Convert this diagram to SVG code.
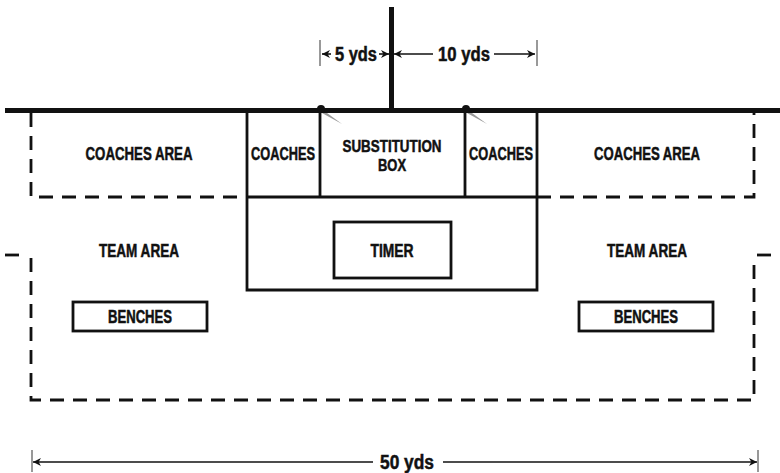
<svg xmlns="http://www.w3.org/2000/svg" width="780" height="473" viewBox="0 0 780 473">
<style>
text{font-family:"Liberation Sans Narrow","Liberation Sans",Arial,sans-serif;font-weight:bold;fill:#111;stroke:#111;stroke-width:0.5;text-anchor:middle}
.lbl{font-size:17.5px}
.sub{font-size:16.5px}
.dim{font-size:20px}
.solid{fill:none;stroke:#111;stroke-width:2.8}
.dash{fill:none;stroke:#111;stroke-width:2.8;stroke-dasharray:14 9}
.thin{fill:none;stroke:#111;stroke-width:1.6}
.tick{stroke:#555;stroke-width:1.2}
</style>
<defs>
<marker id="ah" viewBox="0 0 10 10" refX="10" refY="5" markerWidth="9" markerHeight="8" markerUnits="userSpaceOnUse" orient="auto-start-reverse">
<path d="M0,0 L10,5 L0,10 L3,5 Z" fill="#111"/>
</marker>
</defs>
<rect width="780" height="473" fill="#fff"/>
<g id="field">
<line x1="5" y1="110.5" x2="780" y2="110.5" stroke="#111" stroke-width="5"/>
<line x1="391.5" y1="7" x2="391.5" y2="110" stroke="#111" stroke-width="5"/>
<circle cx="321" cy="109" r="4" fill="#111"/>
<circle cx="466" cy="109" r="4" fill="#111"/>
<polygon points="322,113 342,124 327,113" fill="#999"/>
<polygon points="467,113 487,124 472,113" fill="#999"/>
</g>
<g id="coaches-area-left">
<path class="dash" d="M31,113 V197 H247"/>
<text class="lbl" x="139" y="160" textLength="107" lengthAdjust="spacingAndGlyphs">COACHES AREA</text>
</g>
<g id="coaches-area-right">
<path class="dash" d="M537,197 H754 V113"/>
<text class="lbl" x="647" y="160" textLength="106" lengthAdjust="spacingAndGlyphs">COACHES AREA</text>
</g>
<g id="coaches-left">
<path class="solid" d="M247,112 V197 M320,112 V197"/>
<text class="lbl" x="283" y="160" textLength="64" lengthAdjust="spacingAndGlyphs">COACHES</text>
</g>
<g id="substitution-box">
<path class="solid" d="M247,197 H537"/>
<text class="sub" x="392" y="152" textLength="99" lengthAdjust="spacingAndGlyphs">SUBSTITUTION</text>
<text class="sub" x="392" y="171" textLength="28" lengthAdjust="spacingAndGlyphs">BOX</text>
</g>
<g id="coaches-right">
<path class="solid" d="M465,112 V197 M537,112 V197"/>
<text class="lbl" x="501" y="160" textLength="64" lengthAdjust="spacingAndGlyphs">COACHES</text>
</g>
<g id="timer-area">
<path class="solid" d="M247,197 V290 H537 V197"/>
</g>
<g id="timer">
<rect class="solid" x="334" y="222" width="117" height="56"/>
<text class="lbl" x="392" y="257" textLength="43" lengthAdjust="spacingAndGlyphs">TIMER</text>
</g>
<g id="team-area-left">
<path class="dash" d="M5,255 H20"/>
<path class="dash" d="M31,258 V400 H392"/>
<text class="lbl" x="139" y="257" textLength="80" lengthAdjust="spacingAndGlyphs">TEAM AREA</text>
</g>
<g id="team-area-right">
<path class="dash" d="M392,400 H754 V258"/>
<path class="dash" d="M757,255 H780"/>
<text class="lbl" x="647" y="257" textLength="80" lengthAdjust="spacingAndGlyphs">TEAM AREA</text>
</g>
<g id="benches-left">
<rect class="solid" x="73" y="302" width="134" height="29"/>
<text class="lbl" x="140" y="323" textLength="64" lengthAdjust="spacingAndGlyphs">BENCHES</text>
</g>
<g id="benches-right">
<rect class="solid" x="579" y="302" width="134" height="29"/>
<text class="lbl" x="646" y="323" textLength="64" lengthAdjust="spacingAndGlyphs">BENCHES</text>
</g>
<g id="connectors">
<line class="tick" x1="320" y1="40" x2="320" y2="66"/>
<line class="tick" x1="537" y1="40" x2="537" y2="66"/>
<line class="thin" x1="331" y1="54" x2="322" y2="54" marker-end="url(#ah)"/>
<line class="thin" x1="379" y1="54" x2="389" y2="54" marker-end="url(#ah)"/>
<line class="thin" x1="433" y1="54" x2="394" y2="54" marker-end="url(#ah)"/>
<line class="thin" x1="494" y1="54" x2="535" y2="54" marker-end="url(#ah)"/>
<line class="tick" x1="32" y1="450" x2="32" y2="472"/>
<line class="tick" x1="758" y1="450" x2="758" y2="472"/>
<line class="thin" x1="373" y1="462" x2="33" y2="462" marker-end="url(#ah)"/>
<line class="thin" x1="443" y1="462" x2="757" y2="462" marker-end="url(#ah)"/>
</g>
<g id="labels">
<text class="dim" x="356" y="61" textLength="42" lengthAdjust="spacingAndGlyphs">5 yds</text>
<text class="dim" x="464" y="61" textLength="52" lengthAdjust="spacingAndGlyphs">10 yds</text>
<text class="dim" x="407" y="469" textLength="54" lengthAdjust="spacingAndGlyphs">50 yds</text>
</g>
</svg>
